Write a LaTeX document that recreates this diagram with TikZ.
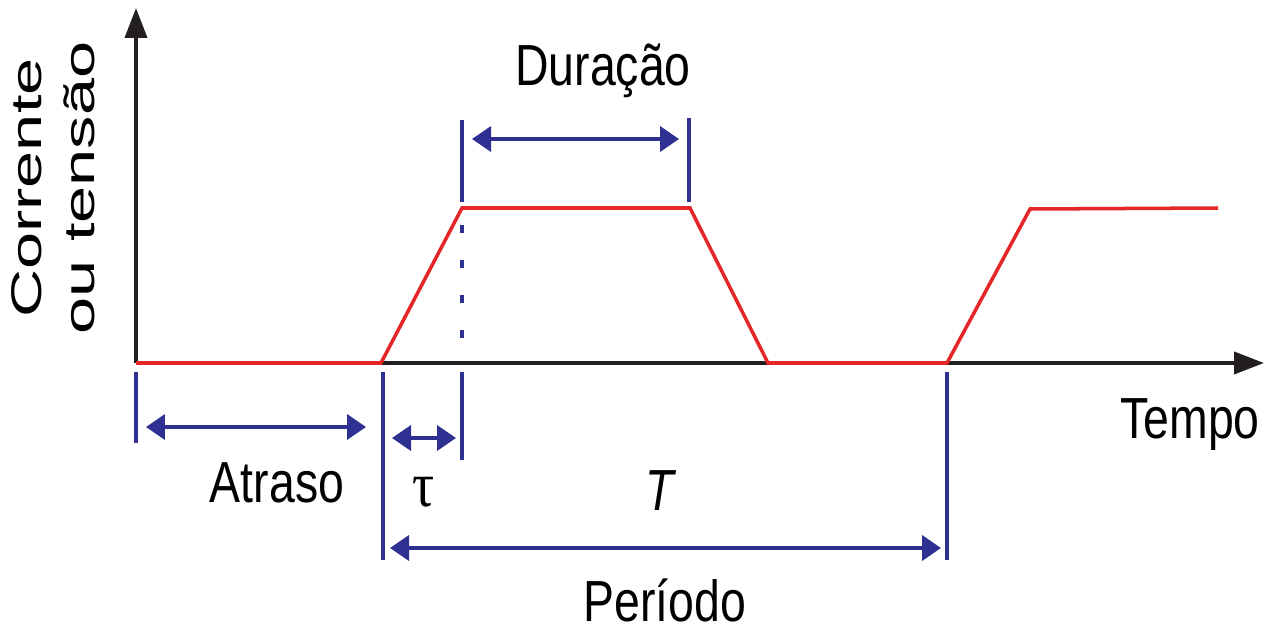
\documentclass[tikz,border=0pt]{standalone}
\usepackage{fontspec}
\setmainfont{Liberation Sans}
\newfontfamily\greekserif{Liberation Serif}
\usetikzlibrary{arrows.meta, positioning}
\definecolor{pulsered}{RGB}{228,38,40}
\definecolor{markblue}{RGB}{46,49,146}
\definecolor{axisgray}{RGB}{35,31,32}

\begin{document}
\begin{tikzpicture}[
        x=0.02cm, y=-0.02cm,
        axis/.style={-{Triangle[length=0.6cm, width=0.44cm]}, line width=2.2pt, axisgray},
        pulse/.style={line width=2pt, pulsered, line join=miter},
        tick/.style={line width=2.1pt, markblue},
        span/.style={{Triangle[length=0.38cm, width=0.5cm]}-{Triangle[length=0.38cm, width=0.5cm]}, line width=2.2pt, markblue},
        lbl/.style={font=\fontsize{33}{40}\selectfont, inner sep=0pt, anchor=base}
    ]
        \useasboundingbox (0,0) rectangle (1273,632);

        % Eixos
        \coordinate (origin) at (136,363);
        \coordinate (ytop) at (136,8);
        \coordinate (xend) at (1264,363);
        \draw [axis] (origin) -- (ytop);
        \draw [axis] (origin) -- (xend);

        % Sinal
        \coordinate (rise1) at (381,363);
        \coordinate (top1) at (462,208);
        \coordinate (top2) at (690,208);
        \coordinate (fall1) at (768,363);
        \coordinate (rise2) at (947,363);
        \coordinate (top3) at (1030,209);
        \coordinate (sigend) at (1218,208);
        \draw [pulse] (origin) -- (rise1) -- (top1) -- (top2) -- (fall1) -- (rise2) -- (top3) -- (sigend);

        % Marcas
        \coordinate (durL1) at (462,120);
        \coordinate (durL2) at (462,202);
        \coordinate (durR1) at (689,118);
        \coordinate (durR2) at (689,202);
        \draw [tick] (durL1) -- (durL2);
        \draw [tick] (durR1) -- (durR2);
        \coordinate (dash1) at (462,225);
        \coordinate (dash2) at (462,340);
        \draw [tick, dash pattern=on 0.16cm off 0.54cm] (dash1) -- (dash2);

        \coordinate (m0a) at (136,372);
        \coordinate (m0b) at (136,443);
        \coordinate (m1a) at (383,372);
        \coordinate (m1b) at (383,560);
        \coordinate (m2a) at (462,372);
        \coordinate (m2b) at (462,460);
        \coordinate (m3a) at (947,372);
        \coordinate (m3b) at (947,560);
        \draw [tick] (m0a) -- (m0b);
        \draw [tick] (m1a) -- (m1b);
        \draw [tick] (m2a) -- (m2b);
        \draw [tick] (m3a) -- (m3b);

        % Intervalos
        \coordinate (durA) at (472,139);
        \coordinate (durB) at (679,139);
        \coordinate (atrA) at (146,427);
        \coordinate (atrB) at (366,427);
        \coordinate (tauA) at (392,438);
        \coordinate (tauB) at (456,438);
        \coordinate (perA) at (390,548);
        \coordinate (perB) at (941,548);
        \draw [span] (durA) -- (durB);
        \draw [span] (atrA) -- (atrB);
        \draw [span] (tauA) -- (tauB);
        \draw [span] (perA) -- (perB);

        % Textos
        \node [lbl] (duracao) at (603,85) {\scalebox{0.8}[1]{Duração}};
        \node [lbl] (atraso) at (277,502) {\scalebox{0.8}[1]{Atraso}};
        \node [lbl] (tau) at (424,506) {\scalebox{0.95}[1.1]{\greekserif τ}};
        \node [lbl] (periodoT) at (660,510) {\scalebox{0.8}[1]{\itshape T}};
        \node [lbl] (periodo) at (665,621) {\scalebox{0.8}[1]{Período}};
        \node [lbl] (tempo) at (1190,438) {\scalebox{0.8}[1]{Tempo}};
        \node [inner sep=0pt] (grandeza) at (57,188) {\scalebox{0.74}[1.15]{\rotatebox{90}{\fontsize{33}{41}\selectfont\begin{tabular}{@{}c@{}}Corrente\\ou tensão\end{tabular}}}};
    \end{tikzpicture}
\end{document}
